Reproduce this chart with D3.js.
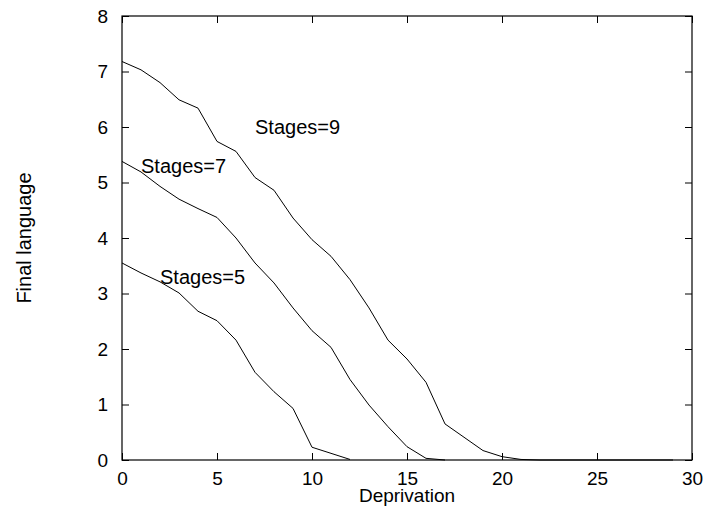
<!DOCTYPE html>
<html>
<head>
<meta charset="utf-8">
<script src="https://cdn.jsdelivr.net/npm/d3@7"></script>
<style>
body { margin:0; background:#fff; }
text { font-family: "Liberation Sans", Arial, Helvetica, sans-serif; }
</style>
</head>
<body>
<svg id="chart"></svg>
<script>
// Final language vs deprivation

// data, one value per deprivation step (0, 1, 2, ...)
var stages9 = [7.18, 7.03, 6.80, 6.49, 6.34, 5.74, 5.56, 5.09, 4.86, 4.36, 3.97, 3.67, 3.25, 2.74, 2.16,
  1.82, 1.40, 0.65, 0.41, 0.17, 0.06, 0.01, 0, 0, 0, 0, 0, 0, 0, 0];
var stages7 = [5.38, 5.19, 4.93, 4.70, 4.53, 4.37, 4.00, 3.55, 3.19, 2.74, 2.33, 2.03, 1.45, 0.99, 0.60,
  0.24, 0.03, 0];
var stages5 = [3.55, 3.37, 3.21, 3.01, 2.68, 2.51, 2.16, 1.58, 1.23, 0.93, 0.23, 0.12, 0.01];

var seriesNames = ["Stages=9", "Stages=7", "Stages=5"];
// label anchor (left end) in data units
var labelX = [7, 1, 2];
var labelY = [6, 5.3, 3.3];

var xTicks = [0, 5, 10, 15, 20, 25, 30];
var yTicks = [0, 1, 2, 3, 4, 5, 6, 7, 8];

//dimensions and margins of the graph
var margin = {top:16, right:12, bottom:52, left:122},
width = 704 - margin.left - margin.right,
height = 512 - margin.top - margin.bottom;

var svg = d3.select("#chart")
.attr("width", 704)
.attr("height", 512)
.append("g")
.attr("transform", "translate(" + margin.left + "," + margin.top + ")");

var x = d3.scaleLinear().domain([0, 30]).range([0, width]);
var y = d3.scaleLinear().domain([0, 8]).range([height, 0]);

var tickLen = 7;

// axes, ticks inside, mirrored on top and right
svg.append("g")
.attr("transform", "translate(0," + height + ")")
.call(d3.axisBottom(x).tickValues(xTicks).tickSizeInner(-tickLen).tickSizeOuter(0).tickPadding(12))
.call(function(g){ g.select(".domain").remove(); });

svg.append("g")
.call(d3.axisTop(x).tickValues(xTicks).tickSizeInner(-tickLen).tickSizeOuter(0).tickFormat(""))
.call(function(g){ g.select(".domain").remove(); });

svg.append("g")
.call(d3.axisLeft(y).tickValues(yTicks).tickSizeInner(-tickLen).tickSizeOuter(0).tickPadding(14))
.call(function(g){ g.select(".domain").remove(); });

svg.append("g")
.attr("transform", "translate(" + width + ",0)")
.call(d3.axisRight(y).tickValues(yTicks).tickSizeInner(-tickLen).tickSizeOuter(0).tickFormat(""))
.call(function(g){ g.select(".domain").remove(); });

svg.selectAll(".tick line").attr("stroke", "#000");
svg.selectAll(".tick text")
.style("font-size", "19px")
.attr("fill", "#000");

// border
svg.append("rect")
.attr("x", 0)
.attr("y", 0)
.attr("width", width)
.attr("height", height)
.attr("fill", "none")
.attr("stroke", "#000")
.attr("stroke-width", 1.2);

// lines
var line = d3.line()
.x(function(d, i){ return x(i); })
.y(function(d){ return y(d); });

svg.selectAll(".series")
.data([stages9, stages7, stages5])
.enter()
.append("path")
.attr("class", "series")
.attr("d", line)
.attr("fill", "none")
.attr("stroke", "#000")
.attr("stroke-width", 1);

// series labels
svg.selectAll(".label")
.data(seriesNames)
.enter()
.append("text")
.attr("class", "label")
.attr("x", function(d, i){ return x(labelX[i]); })
.attr("y", function(d, i){ return y(labelY[i]); })
.attr("dy", "0.35em")
.style("font-size", "20px")
.text(function(d){ return d; });

// axis titles
svg.append("text")
.attr("x", width / 2)
.attr("y", height + 42)
.attr("text-anchor", "middle")
.style("font-size", "19px")
.text("Deprivation");

svg.append("text")
.attr("transform", "translate(" + (-91) + "," + (height / 2) + ")rotate(-90)")
.attr("text-anchor", "middle")
.style("font-size", "20px")
.text("Final language");
</script>
</body>
</html>
